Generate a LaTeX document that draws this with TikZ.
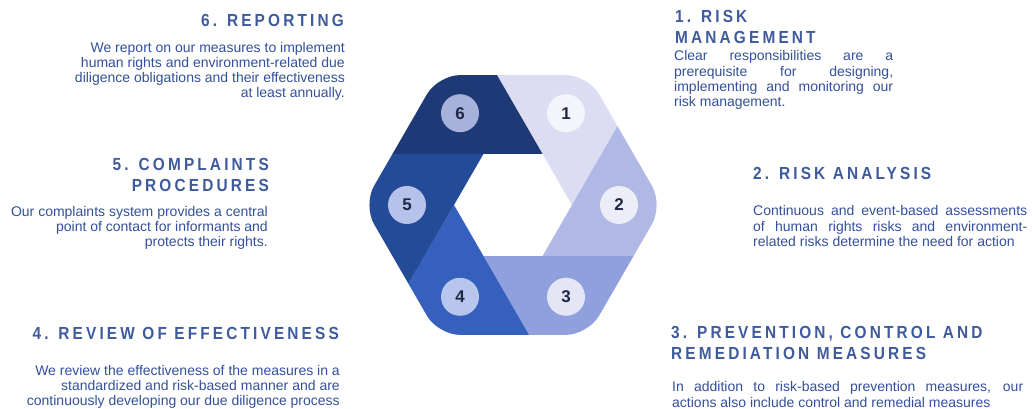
\documentclass[tikz,border=0pt]{standalone}
\usepackage{fontspec}
\setmainfont{Liberation Sans}
\newfontfamily\headfont[FakeStretch=0.88, LetterSpace=18]{Liberation Sans}
\usetikzlibrary{calc}
\tolerance=10000
\hbadness=10000
\definecolor{segone}{HTML}{DCDDF2}
\definecolor{segtwo}{HTML}{B0B8E6}
\definecolor{segthree}{HTML}{8FA0DC}
\definecolor{segfour}{HTML}{3560BE}
\definecolor{segfive}{HTML}{244B98}
\definecolor{segsix}{HTML}{1D3A76}
\definecolor{discone}{HTML}{F4F4FB}
\definecolor{disctwo}{HTML}{EDEDF8}
\definecolor{discthree}{HTML}{E4E6F6}
\definecolor{discfour}{HTML}{B8C6EE}
\definecolor{discfive}{HTML}{B6C2EA}
\definecolor{discsix}{HTML}{A6B2DA}
\definecolor{numtext}{HTML}{1E2946}
\definecolor{headblue}{HTML}{3F5B9C}
\definecolor{bodyblue}{HTML}{33509A}
\tikzset{
  numdisc/.style={circle, minimum size=38pt, inner sep=0pt,
                  font=\bfseries\fontsize{17}{17}\selectfont, text=numtext},
  headline/.style={font=\headfont\bfseries\fontsize{17.5}{21}\selectfont,
                   text=headblue, inner sep=0pt},
  bodytext/.style={font=\fontsize{14}{15.2}\selectfont, text=bodyblue, inner sep=0pt},
  lefthead/.style={headline, align=right, anchor=base east},
  righthead/.style={headline, align=left, anchor=base west},
  leftbody/.style={bodytext, align=right, anchor=base east},
  rightbody/.style={bodytext, align=justify, anchor=base west},
}
\def\rin{59}
\def\rout{150}
\def\rnum{106}

\begin{document}
\begin{tikzpicture}[x=1pt, y=1pt]
\fill[white] (0,0) rectangle (1032,409);
\useasboundingbox (0,0) rectangle (1032,409);

\coordinate (hub) at (513,204);

% Ring of six twisted segments, clipped to the rounded outer hexagon
\begin{scope}
  \clip[rounded corners=22pt] ($(hub)+(0:\rout)$)
    \foreach \a in {60,120,...,300} { -- ($(hub)+(\a:\rout)$) } -- cycle;
  \foreach \n/\col in {1/segone, 2/segtwo, 3/segthree, 4/segfour, 5/segfive, 6/segsix} {
    \pgfmathsetmacro\a{60-60*\n}
    \pgfmathsetmacro\b{\a+60}
    \pgfmathsetmacro\c{\b+60}
    \fill[\col] ($(hub)+(\a:\rin)$) -- ($(hub)+(\a:\rin)+(\b:200)$)
      -- ($(hub)+(\b:300)$) -- ($(hub)+(\b:\rin)+(\c:200)$)
      -- ($(hub)+(\b:\rin)$) -- cycle;
  }
\end{scope}

% Step numbers
\foreach \n/\disc in {1/discone, 2/disctwo, 3/discthree, 4/discfour, 5/discfive, 6/discsix}
  \node[numdisc, fill=\disc] (num\n) at ($(hub)+(120-60*\n:\rnum)$) {\n};

% Left column (multi-line nodes sit on their last baseline)
\node[lefthead] (head6) at (344,382.3) {6. REPORTING};
\node[leftbody] (text6) at (345,311) {We report on our measures to implement\\
  human rights and environment-related due\\diligence obligations and their effectiveness\\
  at least annually.};

\node[lefthead] (head5) at (269,217.3) {5. COMPLAINTS\\PROCEDURES};
\node[leftbody] (text5) at (268,162.5) {Our complaints system provides a central\\
  point of contact for informants and\\protects their rights.};

\node[lefthead] (head4) at (339,69.7) {4. REVIEW OF EFFECTIVENESS};
\node[leftbody] (text4) at (340,3.5) {We review the effectiveness of the measures in a\\
  standardized and risk-based manner and are\\
  continuously developing our due diligence process};

% Right column
\node[righthead] (head1) at (675,365.7) {1. RISK\\MANAGEMENT};
\node[rightbody, text width=219pt] (text1) at (674,348) {Clear responsibilities are a\linebreak
  prerequisite for designing,\linebreak implementing and monitoring our\linebreak
  risk management.};

\node[righthead] (head2) at (753,229) {2. RISK ANALYSIS};
\node[rightbody, text width=274pt] (text2) at (753,193) {Continuous and event-based assessments\linebreak
  of human rights risks and environment-\linebreak related risks determine the need for action};

\node[righthead] (head3) at (671,49.7) {3. PREVENTION, CONTROL AND\\REMEDIATION MEASURES};
\node[rightbody, text width=351pt] (text3) at (672,17) {In addition to risk-based prevention measures, our\linebreak
  actions also include control and remedial measures};

\end{tikzpicture}
\end{document}
